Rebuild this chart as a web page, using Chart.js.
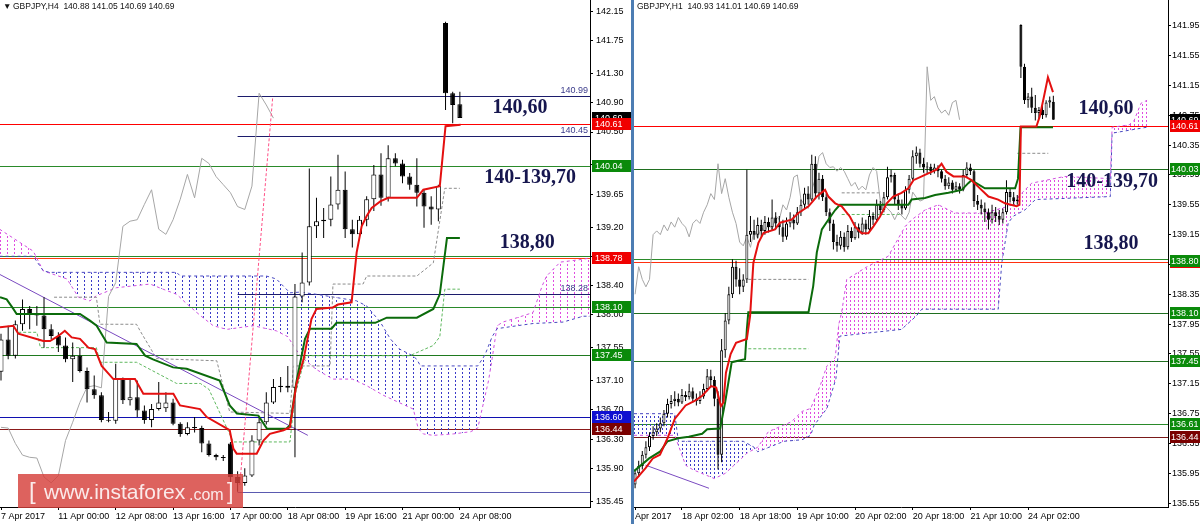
<!DOCTYPE html>
<html>
<head>
<meta charset="utf-8">
<script src="https://cdn.jsdelivr.net/npm/chart.js@4.4.1/dist/chart.umd.min.js"></script>
<style>
  body { margin: 0; width: 1200px; height: 524px; background: #fff; position: relative; overflow: hidden; font-family: "Liberation Sans", Arial, sans-serif; }
  #h4 { position: absolute; left: 0; top: 0; }
  #h1 { position: absolute; left: 634px; top: 0; }
  #sep { position: absolute; left: 631px; top: 0; width: 3px; height: 524px; background: #4d7db3; }
  .wm { position: absolute; left: 18px; top: 474px; width: 225px; height: 34px; background: rgba(214, 64, 58, 0.82); color: #fbeaea; white-space: nowrap; }
  .wm span { position: absolute; bottom: 4px; }
  .wm .b { font-size: 24px; bottom: 3px; }
  .wm .w { font-size: 21px; }
  .wm .c { font-size: 16px; }
</style>
</head>
<body>
<canvas id="h4" width="632" height="524"></canvas>
<canvas id="h1" width="566" height="524"></canvas>
<div id="sep"></div>
<div class="wm"><span class="b" style="left:11px">[</span><span class="w" style="left:26px">www.instaforex</span><span class="c" style="left:171px">.com</span><span class="b" style="left:209px">]</span></div>
<script>
// ---------- GBPJPY H4 (left) ----------
const h4Quote = ['140.88', '141.05', '140.69', '140.69'];
const h4TickBars = [0, 8, 16, 24, 32, 40, 48, 56, 64];
const h4TickLabels = ['7 Apr 2017', '11 Apr 00:00', '12 Apr 08:00', '13 Apr 16:00', '17 Apr 00:00', '18 Apr 08:00', '19 Apr 16:00', '21 Apr 00:00', '24 Apr 08:00'];
const h4PriceTicks = [142.15, 141.75, 141.30, 140.90, 140.50, 140.05, 139.65, 139.20, 138.80, 138.40, 138.00, 137.55, 137.10, 136.70, 136.30, 135.90, 135.45];

// open, high, low, close
const h4Ohlc = [
  [137.22, 137.74, 137.10, 137.66], [137.66, 137.85, 137.39, 137.44], [137.44, 137.92, 137.40, 137.87], [137.87, 138.21, 137.78, 138.08],
  [138.08, 138.12, 137.80, 138.00], [138.00, 138.12, 137.85, 137.99], [137.99, 138.24, 137.55, 137.80], [137.80, 137.87, 137.67, 137.71],
  [137.71, 137.76, 137.49, 137.58], [137.58, 137.69, 137.35, 137.39], [137.39, 137.62, 137.08, 137.44], [137.44, 137.55, 137.21, 137.23],
  [137.23, 137.28, 136.80, 136.98], [136.98, 137.17, 136.85, 136.90], [136.90, 136.94, 136.53, 136.56], [136.56, 136.67, 136.53, 136.55],
  [136.55, 137.33, 136.51, 137.12], [137.12, 137.14, 136.78, 136.83], [136.83, 137.12, 136.76, 136.87], [136.87, 137.10, 136.60, 136.69],
  [136.69, 136.76, 136.51, 136.56], [136.56, 136.78, 136.46, 136.71], [136.71, 137.08, 136.69, 136.80], [136.72, 136.94, 136.67, 136.80],
  [136.80, 136.85, 136.49, 136.51], [136.51, 136.53, 136.33, 136.37], [136.37, 136.53, 136.35, 136.46], [136.46, 136.60, 136.39, 136.45],
  [136.45, 136.48, 136.12, 136.24], [136.24, 136.28, 136.06, 136.08], [136.08, 136.10, 136.01, 136.05], [136.05, 136.08, 136.00, 136.04],
  [136.24, 136.26, 135.70, 135.78], [135.78, 135.86, 135.58, 135.70], [135.70, 135.90, 135.66, 135.80], [135.80, 136.35, 135.78, 136.28],
  [136.28, 136.60, 136.21, 136.53], [136.53, 136.94, 136.50, 136.80], [136.80, 137.12, 136.78, 137.01], [137.01, 137.15, 136.94, 137.03],
  [137.03, 137.30, 136.94, 137.00], [137.00, 138.42, 136.05, 138.25], [138.25, 138.85, 138.17, 138.44], [138.44, 140.00, 138.40, 139.21],
  [139.21, 139.60, 139.05, 139.28], [139.28, 139.46, 139.05, 139.30], [139.30, 139.89, 139.21, 139.51], [139.51, 140.19, 139.44, 139.71],
  [139.71, 139.96, 139.05, 139.17], [139.17, 139.30, 138.92, 139.10], [139.10, 139.35, 139.07, 139.30], [139.30, 139.62, 139.21, 139.58],
  [139.58, 140.05, 139.42, 139.92], [139.92, 140.21, 139.49, 139.60], [139.60, 140.32, 139.55, 140.14], [140.14, 140.21, 140.03, 140.07],
  [140.07, 140.12, 139.80, 139.89], [139.89, 139.94, 139.71, 139.78], [139.78, 140.14, 139.48, 139.67], [139.67, 139.71, 139.19, 139.48],
  [139.48, 139.62, 139.23, 139.44], [139.44, 139.78, 139.28, 139.76], [141.99, 142.01, 140.80, 141.03], [141.03, 141.05, 140.62, 140.87],
  [140.88, 141.05, 140.69, 140.69]
];

const h4Tenkan = [[-0.14, 137.83], [1.72, 137.85], [2.42, 137.74], [5.9, 137.64], [6.83, 137.64], [8.0, 137.71], [8.9, 137.78], [9.86, 137.69],
  [11.02, 137.67], [12.18, 137.55], [13.1, 137.53], [14.04, 137.30], [15.67, 137.12], [18.69, 137.12], [19.85, 136.92], [24.04, 136.92],
  [24.97, 136.76], [27.75, 136.71], [28.7, 136.60], [31.9, 136.42], [32.4, 136.17], [32.87, 136.10], [35.66, 136.10], [36.6, 136.28],
  [37.5, 136.37], [39.4, 136.42], [40.3, 136.46], [41.2, 137.05], [42.2, 137.39], [43.3, 137.94], [44.0, 138.08], [46.3, 138.10],
  [47.0, 138.14], [48.9, 138.17], [49.6, 138.85], [50.3, 139.21], [51.0, 139.35], [51.7, 139.46], [52.9, 139.55], [54.0, 139.60],
  [58.0, 139.60], [58.9, 139.71], [61.2, 139.76], [62.0, 140.58], [64.1, 140.60]];
const h4Kijun = [[-0.14, 138.24], [0.79, 138.21], [1.72, 138.08], [2.18, 138.01], [11.02, 138.01], [12.41, 137.92], [13.34, 137.85],
  [14.74, 137.62], [18.9, 137.60], [20.1, 137.44], [21.2, 137.39], [24.0, 137.28], [25.9, 137.26], [30.5, 137.10], [31.9, 136.76],
  [32.9, 136.65], [35.9, 136.62], [37.1, 136.44], [39.8, 136.44], [40.3, 136.49], [41.2, 137.08], [42.4, 137.67], [43.1, 137.81],
  [46.1, 137.81], [46.8, 137.89], [52.2, 137.89], [53.8, 137.96], [58.0, 137.96], [60.3, 138.08], [61.2, 138.28], [61.9, 138.82],
  [62.2, 139.05], [64.0, 139.05]];
const h4SpanA = [[-0.2, 139.17], [4.5, 138.87], [5.9, 138.60], [9.2, 138.49], [10.8, 138.24], [12.4, 138.19], [13.3, 138.26], [16.1, 138.37],
  [20.8, 138.42], [22.6, 138.35], [24.5, 138.28], [25.9, 138.15], [27.8, 137.99], [29.6, 137.85], [31.5, 137.80], [35.2, 137.85],
  [38.4, 137.78], [40.0, 137.70], [41.7, 137.44], [44.0, 137.25], [46.3, 137.12], [49.0, 137.12], [51.0, 137.03], [53.3, 136.90],
  [55.5, 136.80], [57.5, 136.71], [58.2, 136.44], [58.9, 136.37], [60.3, 136.35], [63.1, 136.37], [65.5, 136.40], [66.5, 136.45],
  [68.0, 137.10], [68.5, 137.40], [69.2, 137.85], [70.0, 137.90], [72.0, 137.96], [74.2, 138.03], [75.5, 138.40], [76.1, 138.53],
  [78.0, 138.72], [81.2, 138.76], [82.3, 138.78]];
const h4SpanB = [[-0.2, 138.80], [4.5, 138.80], [5.9, 138.60], [6.8, 138.58], [24.5, 138.58], [25.0, 138.53], [37.0, 138.53], [38.4, 138.49],
  [39.4, 138.39], [40.3, 138.30], [41.7, 138.31], [44.0, 138.28], [49.6, 138.19], [51.0, 138.12], [52.9, 137.90], [54.3, 137.67],
  [55.6, 137.53], [57.4, 137.44], [58.0, 137.39], [58.5, 137.30], [66.5, 137.30], [67.5, 137.45], [68.5, 137.70], [69.2, 137.81],
  [72.0, 137.85], [74.2, 137.88], [78.4, 137.90], [81.2, 137.98], [82.3, 137.98]];
const h4DashGray = [[7.4, 138.24], [13.3, 138.24], [13.8, 137.87], [18.9, 137.87], [19.4, 137.78], [21.7, 137.40], [30.1, 137.37], [30.5, 137.21],
  [31.9, 136.67], [40.3, 136.65], [40.8, 137.30], [45.9, 137.30], [46.3, 138.42], [50.5, 138.42], [51.0, 138.53], [58.0, 138.53],
  [60.3, 138.71], [61.9, 139.73], [64.0, 139.73]];
const h4DashGreen = [[1.7, 137.76], [5.0, 137.76], [5.5, 137.55], [13.3, 137.55], [13.8, 137.35], [18.9, 137.35], [24.5, 137.06], [27.8, 137.06],
  [29.0, 136.98], [32.4, 136.26], [40.3, 136.26], [41.0, 136.90], [42.5, 137.44], [57.0, 137.44], [60.3, 137.58], [61.2, 137.70],
  [61.9, 138.35], [64.0, 138.35]];
const h4Trend = [[-0.14, 138.55], [42.8, 136.35]];
const h4PinkRay = [[33.3, 135.67], [37.9, 140.98]];
const h4Levels = [140.61, 140.04, 138.81, 138.78, 138.10, 137.45, 136.60, 136.44];
const h4Rays = [[33, 140.99], [33, 140.45], [33, 138.28], [33, 135.58]];
const h4RayLabels = ['140.99', '140.45', '138.28', ''];
const h4Tags = [140.61, 140.04, 138.78, 138.10, 137.45, 136.60, 136.44];
const h4Zones = [[72.4, 140.83], [73.8, 139.87], [73.4, 138.99]];

// ---------- GBPJPY H1 (right) ----------
const h1Quote = ['140.93', '141.01', '140.69', '140.69'];
const h1TickBars = [0, 13, 29, 45, 61, 77, 93, 109];
const h1TickLabels = ['Apr 2017', '18 Apr 02:00', '18 Apr 18:00', '19 Apr 10:00', '20 Apr 02:00', '20 Apr 18:00', '21 Apr 10:00', '24 Apr 02:00'];
const h1PriceTicks = [141.95, 141.55, 141.15, 140.75, 140.35, 139.95, 139.55, 139.15, 138.75, 138.35, 137.95, 137.55, 137.15, 136.75, 136.35, 135.95, 135.55];

const h1Ohlc = [
  [135.80, 136.00, 135.75, 135.95], [135.95, 136.12, 135.90, 136.05], [136.05, 136.25, 136.00, 136.20], [136.20, 136.38, 136.15, 136.30],
  [136.30, 136.50, 136.25, 136.45], [136.45, 136.58, 136.40, 136.50], [136.50, 136.62, 136.45, 136.55], [136.55, 136.70, 136.50, 136.62],
  [136.62, 136.80, 136.58, 136.75], [136.75, 136.95, 136.70, 136.88], [136.88, 137.00, 136.82, 136.92], [136.92, 137.05, 136.85, 136.95],
  [136.95, 137.02, 136.85, 136.90], [136.90, 137.08, 136.88, 137.00], [137.00, 137.05, 136.92, 136.97], [136.97, 137.15, 136.94, 137.05],
  [137.05, 137.10, 136.90, 136.95], [136.95, 137.02, 136.86, 136.92], [136.92, 137.05, 136.88, 136.98], [136.98, 137.15, 136.95, 137.08],
  [137.08, 137.35, 137.05, 137.25], [137.25, 137.34, 137.10, 137.20], [137.20, 137.25, 136.85, 136.95], [136.95, 137.05, 136.00, 136.20],
  [136.20, 137.75, 136.10, 137.60], [137.60, 138.10, 137.50, 138.00], [138.00, 138.45, 137.95, 138.35], [138.35, 138.82, 138.30, 138.72],
  [138.72, 138.80, 138.45, 138.55], [138.55, 138.70, 138.35, 138.45], [138.45, 138.62, 138.38, 138.55], [138.55, 140.02, 138.50, 139.15],
  [139.15, 139.40, 139.05, 139.20], [139.20, 139.35, 139.08, 139.15], [139.15, 139.38, 139.10, 139.28], [139.28, 139.35, 139.12, 139.20],
  [139.20, 139.40, 139.15, 139.32], [139.32, 139.38, 139.18, 139.25], [139.25, 139.62, 139.20, 139.38], [139.38, 139.45, 139.22, 139.30],
  [139.30, 139.40, 139.15, 139.25], [139.25, 139.35, 139.05, 139.12], [139.12, 139.38, 139.08, 139.30], [139.30, 139.45, 139.25, 139.35],
  [139.35, 139.42, 139.22, 139.30], [139.30, 139.52, 139.28, 139.45], [139.45, 139.62, 139.40, 139.55], [139.55, 139.78, 139.50, 139.70],
  [139.70, 139.80, 139.55, 139.62], [139.62, 140.22, 139.60, 140.10], [140.10, 140.20, 139.65, 139.70], [139.70, 139.98, 139.62, 139.90],
  [139.90, 139.95, 139.60, 139.65], [139.65, 139.70, 139.40, 139.45], [139.45, 139.50, 139.20, 139.30], [139.30, 139.35, 138.95, 139.05],
  [139.05, 139.15, 138.92, 139.00], [139.00, 139.20, 138.95, 139.12], [139.12, 139.18, 138.92, 138.98], [138.98, 139.28, 138.95, 139.20],
  [139.20, 139.25, 139.05, 139.10], [139.10, 139.32, 139.08, 139.25], [139.25, 139.30, 139.10, 139.18], [139.18, 139.38, 139.15, 139.30],
  [139.30, 139.35, 139.15, 139.22], [139.22, 139.48, 139.20, 139.40], [139.40, 139.45, 139.28, 139.35], [139.35, 139.62, 139.32, 139.55],
  [139.55, 139.60, 139.42, 139.48], [139.48, 139.72, 139.45, 139.65], [139.65, 140.06, 139.62, 139.92], [139.92, 140.02, 139.85, 139.95],
  [139.95, 139.98, 139.55, 139.62], [139.62, 139.70, 139.48, 139.55], [139.55, 139.62, 139.42, 139.50], [139.50, 139.80, 139.48, 139.75],
  [139.75, 139.95, 139.70, 139.90], [139.90, 140.28, 139.88, 140.20], [140.20, 140.33, 140.10, 140.25], [140.25, 140.30, 140.05, 140.10],
  [140.10, 140.18, 139.98, 140.05], [140.05, 140.12, 139.97, 140.06], [140.06, 140.10, 139.95, 140.00], [140.00, 140.10, 139.97, 140.05],
  [140.05, 140.08, 139.92, 140.00], [140.00, 140.02, 139.85, 139.90], [139.90, 139.95, 139.75, 139.80], [139.80, 139.92, 139.76, 139.85],
  [139.85, 139.88, 139.70, 139.75], [139.75, 139.86, 139.72, 139.80], [139.80, 139.84, 139.70, 139.75], [139.75, 140.02, 139.73, 139.95],
  [139.95, 140.12, 139.92, 140.05], [140.05, 140.10, 139.95, 140.00], [140.00, 140.02, 139.52, 139.60], [139.60, 139.68, 139.48, 139.55],
  [139.55, 139.62, 139.42, 139.50], [139.50, 139.58, 139.32, 139.45], [139.45, 139.50, 139.22, 139.35], [139.35, 139.55, 139.30, 139.45],
  [139.45, 139.52, 139.32, 139.40], [139.40, 139.48, 139.28, 139.35], [139.35, 139.50, 139.30, 139.45], [139.45, 139.88, 139.42, 139.72],
  [139.72, 139.76, 139.58, 139.65], [139.65, 139.72, 139.55, 139.60], [139.60, 139.68, 139.55, 139.62], [141.96, 141.97, 141.25, 141.40],
  [141.40, 141.44, 140.90, 140.95], [140.95, 141.05, 140.85, 141.00], [141.00, 141.12, 140.78, 140.85], [140.85, 141.02, 140.68, 140.78],
  [140.78, 140.86, 140.70, 140.82], [140.82, 140.90, 140.70, 140.75], [140.75, 140.95, 140.72, 140.92], [140.92, 141.00, 140.85, 140.95],
  [140.93, 141.01, 140.69, 140.69]
];

const h1Tenkan = [[-0.3, 135.84], [2.9, 136.02], [4.9, 136.15], [6.9, 136.20], [9, 136.42], [11, 136.68], [14, 136.86], [16.5, 136.92],
  [18.6, 136.99], [21.1, 137.12], [22.5, 137.10], [23.8, 136.85], [24.5, 136.90], [25.2, 137.30], [26.5, 137.55], [28, 137.70], [31, 137.75],
  [31.9, 138.06], [32.8, 138.77], [34.2, 139.04], [35.6, 139.17], [38.8, 139.22], [40.2, 139.31], [43.4, 139.35], [45.3, 139.44],
  [48.1, 139.53], [50.4, 139.66], [52.7, 139.75], [53.6, 139.66], [55.5, 139.57], [57.3, 139.53], [59.6, 139.39], [61, 139.26],
  [62.8, 139.17], [64.7, 139.17], [66.1, 139.26], [67.9, 139.39], [69.8, 139.57], [71.6, 139.66], [73.9, 139.71], [75.8, 139.77],
  [77.2, 139.88], [79.5, 139.93], [81.3, 139.97], [83.6, 140.02], [85, 140.10], [86.4, 139.99], [88.3, 139.93], [91.5, 139.93],
  [93.3, 139.88], [95.2, 139.79], [98, 139.66], [100.7, 139.62], [102.6, 139.57], [105.8, 139.53], [106.6, 139.55], [107, 140.60],
  [111.3, 140.60], [112.2, 140.73], [113.4, 141.00], [114.5, 141.26], [115.9, 141.06]];
const h1Kijun = [[-0.3, 135.98], [3.9, 136.15], [6.9, 136.24], [9, 136.38], [11.9, 136.42], [14.9, 136.44], [18.6, 136.48], [20, 136.54],
  [23.6, 136.55], [25, 136.91], [26.8, 137.44], [30.5, 137.48], [31, 137.88], [31.4, 138.11], [48.1, 138.11], [49.4, 138.46],
  [50.4, 138.91], [51.8, 139.22], [53.6, 139.35], [55.5, 139.48], [56.8, 139.55], [75.8, 139.55], [76.7, 139.62], [80.4, 139.64],
  [83.2, 139.68], [86.9, 139.71], [90.6, 139.75], [92.4, 139.84], [93.3, 139.88], [97, 139.77], [105.4, 139.77], [106.2, 139.90],
  [106.9, 140.59], [115.9, 140.59]];
const h1SpanA = [[-0.3, 136.46], [11, 136.46], [14, 136.06], [16, 136.00], [22, 135.88], [25, 135.95], [29.5, 136.15], [31, 136.22],
  [34, 136.30], [37, 136.51], [43.3, 136.64], [46.3, 136.78], [48.7, 136.82], [51.3, 137.12], [53.2, 137.39], [55.5, 137.50],
  [56.5, 137.95], [57.3, 138.11], [58.7, 138.55], [64.7, 138.73], [70.2, 138.86], [74.9, 139.26], [76.7, 139.35], [80.4, 139.48],
  [84.1, 139.55], [88.7, 139.44], [97, 139.44], [103.5, 139.53], [106.3, 139.66], [110, 139.84], [119.2, 139.93], [131.8, 139.90],
  [132.3, 140.59], [137, 140.62], [138.4, 140.68], [140.3, 140.91], [142, 140.95]];
const h1SpanB = [[-0.3, 136.75], [11, 136.75], [12, 136.38], [30, 136.38], [33, 136.30], [34, 136.24], [41.3, 136.38], [46.3, 136.40],
  [48.7, 136.46], [49.6, 136.59], [53.2, 136.82], [55.7, 137.22], [56.8, 137.79], [73.9, 137.88], [78, 138.06], [79.5, 138.15],
  [100.7, 138.15], [101.7, 138.77], [103.5, 139.31], [105, 139.40], [108.1, 139.48], [111, 139.62], [131.8, 139.66], [132.3, 140.51],
  [142, 140.59]];
// flat dashed segments: from bar, to bar, price
const h1DashGray = [[31.4, 48.1, 138.55], [57.3, 68.4, 139.71], [106, 114.6, 140.24]];
const h1DashGreen = [[31.4, 48.1, 137.62], [57.3, 73.9, 139.42]];
const h1Trend = [[2.9, 136.06], [20.5, 135.75]];
const h1Levels = [140.61, 140.03, 138.82, 138.78, 138.10, 137.45, 136.61, 136.44];
const h1Tags = [140.61, 140.03, 138.78, 138.80, 138.10, 137.45, 136.61, 136.44];
const h1Zones = [[130.6, 140.84], [132.3, 139.86], [132, 139.02]];

const zoneTexts = ['140,60', '140-139,70', '138,80'];

// ---------- styles ----------
const h4LevelColors = ['#ff0000', '#2a8a2a', '#2a8a2a', '#ff3b10', '#2a8a2a', '#1f7a1f', '#1010b0', '#8b1a1a'];
const h4RayColors = ['#1c1c6c', '#1c1c6c', '#1c1c6c', '#5a5ab0'];
const h4TagColors = ['#f00000', '#0a8a0a', '#f00000', '#0a8a0a', '#0a8a0a', '#1010d0', '#7a0000'];
const h1LevelColors = ['#ff0000', '#1f6f1f', '#2a8a2a', '#ff3010', '#1f6f1f', '#1f6f1f', '#2a8a2a', '#7a1a1a'];
const h1TagColors = ['#f00000', '#0a8a0a', '#f00000', '#0a8a0a', '#0a8a0a', '#0a8a0a', '#0a8a0a', '#7a0000'];

Chart.defaults.font.family = '"Liberation Sans", Arial, sans-serif';
Chart.defaults.font.size = 9;
Chart.defaults.color = '#000';

function pts(arr) { return arr.map(p => ({ x: p[0], y: p[1] })); }
function segs(arr) {
  const out = [];
  arr.forEach(s => out.push({ x: s[0], y: s[2] }, { x: s[1], y: s[2] }, { x: s[1], y: null }));
  return out;
}
function dots(color, w, h, dw, dh) {
  const c = document.createElement('canvas');
  c.width = w; c.height = h;
  const g = c.getContext('2d');
  g.fillStyle = color;
  g.fillRect(0, 0, dw, dh);
  return g.createPattern(c, 'repeat');
}
function line(data, color, width, dash, order) {
  return { type: 'line', data, borderColor: color, borderWidth: width, borderDash: dash || [],
    pointRadius: 0, tension: 0, fill: false, order };
}
function candles(ohlc, thick) {
  return [
    { type: 'bar', data: ohlc.map((b, i) => ({ x: i, y: [b[2], b[1]] })), barThickness: 1,
      backgroundColor: '#000', grouped: false, inflateAmount: 0, order: 8 },
    { type: 'bar', data: ohlc.map((b, i) => ({ x: i, y: [Math.min(b[0], b[3]), Math.max(b[0], b[3])] })),
      barThickness: thick, backgroundColor: ohlc.map(b => b[3] >= b[0] ? '#fff' : '#000'),
      borderColor: '#000', borderWidth: 1, borderSkipped: false, minBarLength: 1,
      grouped: false, inflateAmount: 0, order: 7 }
  ];
}

function overlay(o) {
  return {
    id: 'overlay',
    beforeDatasetsDraw(chart) {
      const { ctx, chartArea: a, scales: { x, y } } = chart;
      ctx.save();
      ctx.beginPath(); ctx.rect(a.left, a.top, a.right - a.left, a.bottom - a.top); ctx.clip();
      ctx.lineWidth = 1;
      o.levels.forEach((p, k) => {
        const py = Math.round(y.getPixelForValue(p)) + 0.5;
        ctx.strokeStyle = o.levelColors[k];
        ctx.beginPath(); ctx.moveTo(a.left, py); ctx.lineTo(a.right, py); ctx.stroke();
      });
      (o.rays || []).forEach((r, k) => {
        const py = Math.round(y.getPixelForValue(r[1])) + 0.5;
        ctx.strokeStyle = o.rayColors[k];
        ctx.beginPath(); ctx.moveTo(x.getPixelForValue(r[0]), py); ctx.lineTo(a.right, py); ctx.stroke();
      });
      ctx.restore();
    },
    afterDraw(chart) {
      const { ctx, chartArea: a, scales: { x, y } } = chart;
      ctx.save();
      // small labels on rays
      ctx.font = '9px "Liberation Sans"';
      ctx.textAlign = 'right'; ctx.textBaseline = 'bottom';
      (o.rays || []).forEach((r, k) => {
        if (!o.rayLabels[k]) return;
        ctx.fillStyle = '#3a3a8a';
        ctx.fillText(o.rayLabels[k], a.right - 2, Math.round(y.getPixelForValue(r[1])) - 0.5);
      });
      // zone captions
      ctx.font = 'bold 20px "Liberation Serif"';
      ctx.textAlign = 'center'; ctx.textBaseline = 'middle';
      ctx.fillStyle = '#16164e';
      o.zones.forEach((z, k) => ctx.fillText(zoneTexts[k], x.getPixelForValue(z[0]), y.getPixelForValue(z[1])));
      // price tags on the axis
      ctx.font = '9px "Liberation Sans"';
      ctx.textAlign = 'left';
      const tw = chart.width - a.right - 2;
      const tag = (v, col) => {
        const py = Math.round(y.getPixelForValue(v));
        ctx.fillStyle = col;
        ctx.fillRect(a.right + 2, py - 6, tw, 12);
        ctx.fillStyle = '#fff';
        ctx.fillText(v.toFixed(2), a.right + o.tagPad, py + 0.5);
      };
      tag(o.last, '#000');
      o.tags.forEach((v, k) => tag(v, o.tagColors[k]));
      // header
      ctx.fillStyle = '#111';
      ctx.font = '8.5px "Liberation Sans"';
      ctx.textBaseline = 'middle';
      ctx.fillText(o.header, a.left + o.headerX, 7);
      if (o.arrow) ctx.fillText('▼', a.left + 3, 7);
      ctx.restore();
    }
  };
}

function build(id, c) {
  const chikou = c.ohlc.slice(26).map((b, k) => [k, b[3]]);
  const pink = dots(c.pink, c.patW, 4, 1, 2);
  const blue = dots(c.blue, c.patW, 4, 1, 2);
  const datasets = [
    Object.assign(line(pts(c.spanA), c.pinkLine, 1, [3, 3], 20), { fill: { target: '+1', above: pink, below: blue } }),
    line(pts(c.spanB), c.blueLine, 1, [3, 3], 19),
    line(c.dashGray, '#8c8c8c', 1, [3, 2], 15),
    line(c.dashGreen, '#5fb85f', 1, [3, 2], 15),
    line(pts(chikou), '#a6a6a6', 1, [], 12),
    line(pts(c.trend), '#7a4ac0', 1, [], 11),
    ...(c.pinkRay ? [line(pts(c.pinkRay), '#ff4f86', 1, [3, 2], 11)] : []),
    ...candles(c.ohlc, c.body),
    line(pts(c.kijun), '#0b6b0b', 2, [], 4),
    line(pts(c.tenkan), '#e41010', 2, [], 3)
  ];
  return new Chart(document.getElementById(id), {
    type: 'line',
    data: { datasets },
    options: {
      responsive: false, animation: false, devicePixelRatio: 1, events: [],
      layout: { padding: 0, autoPadding: false },
      plugins: { legend: { display: false }, tooltip: { enabled: false } },
      scales: {
        x: {
          type: 'linear', min: c.xMin, max: c.xMax, offset: false,
          grid: { display: true, drawOnChartArea: false, drawTicks: true, tickLength: 3, color: '#000', offset: false },
          border: { display: true, color: '#000' },
          ticks: { align: 'start', maxRotation: 0, autoSkip: false, padding: 1,
            callback: (v, i) => c.tickLabels[i] },
          afterBuildTicks: s => { s.ticks = c.tickBars.map(v => ({ value: v })); },
          afterFit: s => { s.height = 17; s.paddingLeft = 0; s.paddingRight = 0; }
        },
        y: {
          type: 'linear', position: 'right', min: c.yMin, max: c.yMax, beginAtZero: false,
          grid: { display: true, drawOnChartArea: false, drawTicks: true, tickLength: c.tickLen, color: '#000' },
          border: { display: true, color: '#000' },
          ticks: { padding: c.tickPad, callback: v => v.toFixed(2) },
          afterBuildTicks: s => { s.ticks = c.priceTicks.map(v => ({ value: v })); },
          afterFit: s => { s.width = c.axisW; s.paddingTop = 0; s.paddingBottom = 0; }
        }
      }
    },
    plugins: [overlay(c.overlay)]
  });
}

build('h4', {
  ohlc: h4Ohlc, tenkan: h4Tenkan, kijun: h4Kijun, spanA: h4SpanA, spanB: h4SpanB,
  dashGray: pts(h4DashGray), dashGreen: pts(h4DashGreen), trend: h4Trend, pinkRay: h4PinkRay,
  tickBars: h4TickBars, tickLabels: h4TickLabels, priceTicks: h4PriceTicks,
  xMin: -0.14, xMax: 82.15, yMin: 135.37, yMax: 142.306, axisW: 42, body: 5, patW: 7, tickLen: 3, tickPad: 3,
  pink: '#e04be0', blue: '#3a3ac8', pinkLine: '#d050e0', blueLine: '#4848c0',
  overlay: {
    levels: h4Levels, levelColors: h4LevelColors, rays: h4Rays, rayColors: h4RayColors, rayLabels: h4RayLabels,
    zones: h4Zones, tags: h4Tags, tagColors: h4TagColors, last: h4Ohlc[h4Ohlc.length - 1][3], tagPad: 5,
    header: 'GBPJPY,H4  ' + h4Quote.join(' '), headerX: 13, arrow: true
  }
});

build('h1', {
  ohlc: h1Ohlc, tenkan: h1Tenkan, kijun: h1Kijun, spanA: h1SpanA, spanB: h1SpanB,
  dashGray: segs(h1DashGray), dashGreen: segs(h1DashGreen), trend: h1Trend, pinkRay: null,
  tickBars: h1TickBars, tickLabels: h1TickLabels, priceTicks: h1PriceTicks,
  xMin: -0.3, xMax: 147.8, yMin: 135.499, yMax: 142.295, axisW: 32, body: 3, patW: 4, tickLen: 3, tickPad: 1,
  pink: '#e04be0', blue: '#3a3ac8', pinkLine: '#d050e0', blueLine: '#4848c0',
  overlay: {
    levels: h1Levels, levelColors: h1LevelColors, zones: h1Zones, tags: h1Tags, tagColors: h1TagColors,
    last: h1Ohlc[h1Ohlc.length - 1][3], tagPad: 3,
    header: 'GBPJPY,H1  ' + h1Quote.join(' '), headerX: 3, arrow: false
  }
});
</script>
</body>
</html>
